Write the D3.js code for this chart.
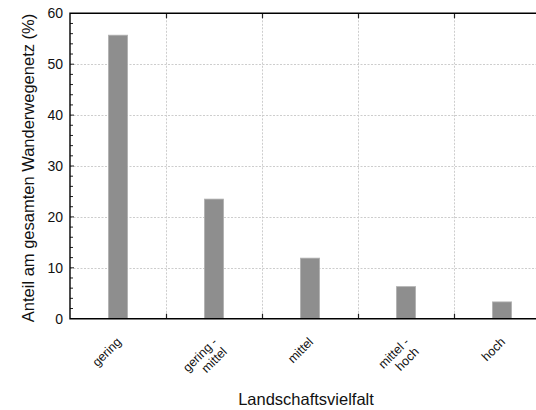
<!DOCTYPE html>
<html>
<head>
<meta charset="utf-8">
<script src="https://cdn.jsdelivr.net/npm/d3@7"></script>
<style>
  body { margin: 0; background: #fff; }
  svg { display: block; font-family: "Liberation Sans", Arial, sans-serif; }
</style>
</head>
<body>
<svg id="chart"></svg>
<script>
// Landschaftsvielfalt categories, two-line tick labels, share values (%)
const categories = ["gering", "gering-mittel", "mittel", "mittel-hoch", "hoch"];
const tickLabels = [["gering"], ["gering -", "mittel"], ["mittel"], ["mittel -", "hoch"], ["hoch"]];
const values = [55.7, 23.5, 11.9, 6.3, 3.3];
const yTicks = [0, 10, 20, 30, 40, 50, 60];

const w = 536;
const h = 410;
const mLeft = 70;
const mTop = 13.3;
const plotW = 480;   // right side runs past the window edge like the original
const plotH = 305.4;

const svg = d3.select("#chart")
  .attr("width", w)
  .attr("height", h);

const x = d3.scaleBand()
  .domain(categories)
  .range([mLeft, mLeft + plotW]);

const y = d3.scaleLinear()
  .domain([0, 60])
  .range([mTop + plotH, mTop]);

// grid
const grid = svg.append("g")
  .attr("stroke", "#cdcdcd")
  .attr("stroke-width", 1)
  .attr("stroke-dasharray", "2,1.5");

grid.selectAll("line.h")
  .data(yTicks.filter(d => d > 0 && d < 60))
  .enter().append("line")
  .attr("x1", mLeft).attr("x2", mLeft + plotW)
  .attr("y1", d => Math.round(y(d)) + 0.5)
  .attr("y2", d => Math.round(y(d)) + 0.5);

grid.selectAll("line.v")
  .data(categories.slice(1))
  .enter().append("line")
  .attr("x1", d => Math.round(x(d)) + 0.5)
  .attr("x2", d => Math.round(x(d)) + 0.5)
  .attr("y1", mTop).attr("y2", mTop + plotH);

// bars
const barW = x.bandwidth() * 0.2;
svg.selectAll("rect.bar")
  .data(values)
  .enter().append("rect")
  .attr("class", "bar")
  .attr("x", (d, i) => x(categories[i]) + x.bandwidth() / 2 - barW / 2)
  .attr("width", barW)
  .attr("y", d => y(d))
  .attr("height", d => y(0) - y(d))
  .attr("fill", "#8e8e8e")
  .attr("stroke", "#b2b2b2")
  .attr("stroke-width", 0.8);

// y axis with minor ticks pointing inward
const yAxis = d3.axisLeft(y)
  .tickValues(yTicks)
  .tickSize(0)
  .tickPadding(7);
const gy = svg.append("g")
  .attr("transform", `translate(${mLeft},0)`)
  .call(yAxis);
gy.select(".domain").remove();
gy.selectAll("text").attr("font-size", 14).attr("fill", "#111");

svg.append("g").selectAll("line")
  .data(d3.range(2, 60, 2))
  .enter().append("line")
  .attr("x1", mLeft).attr("x2", d => mLeft + (d % 10 === 0 ? 4 : 3))
  .attr("y1", d => y(d)).attr("y2", d => y(d))
  .attr("stroke", "#222").attr("stroke-width", 1);

// x ticks at category boundaries (bottom and top, inward)
svg.append("g").selectAll("line")
  .data(categories.slice(1))
  .enter().append("line")
  .attr("x1", d => Math.round(x(d)) + 0.5).attr("x2", d => Math.round(x(d)) + 0.5)
  .attr("y1", mTop + plotH).attr("y2", mTop + plotH - 5)
  .attr("stroke", "#222").attr("stroke-width", 1.2);
svg.append("g").selectAll("line")
  .data(categories.slice(1))
  .enter().append("line")
  .attr("x1", d => Math.round(x(d)) + 0.5).attr("x2", d => Math.round(x(d)) + 0.5)
  .attr("y1", mTop).attr("y2", mTop + 5)
  .attr("stroke", "#222").attr("stroke-width", 1.2);

// frame
svg.append("path")
  .attr("d", `M${mLeft + plotW},${mTop}H${mLeft}V${mTop + plotH}H${mLeft + plotW}`)
  .attr("fill", "none")
  .attr("stroke", "#000")
  .attr("stroke-width", 1.4);

// x tick labels, rotated
const xl = svg.append("g").selectAll("text")
  .data(categories)
  .enter().append("text")
  .attr("transform", d => `translate(${x(d) + x.bandwidth() / 2 + 4},${mTop + plotH + 24}) rotate(-45)`)
  .attr("text-anchor", "end")
  .attr("font-size", 12.5)
  .attr("fill", "#111");
xl.each(function (d, i) {
  d3.select(this).selectAll("tspan")
    .data(tickLabels[i])
    .enter().append("tspan")
    .attr("x", 0)
    .attr("dy", (t, j) => j === 0 ? 0 : "1.1em")
    .text(t => t);
});

// axis titles
svg.append("text")
  .attr("x", 306)
  .attr("y", 405)
  .attr("text-anchor", "middle")
  .attr("font-size", 16.5)
  .attr("fill", "#111")
  .text("Landschaftsvielfalt");

svg.append("text")
  .attr("transform", `translate(34,${mTop + plotH / 2 + 2}) rotate(-90)`)
  .attr("text-anchor", "middle")
  .attr("font-size", 16.5)
  .attr("fill", "#111")
  .text("Anteil am gesamten Wanderwegenetz (%)");
</script>
</body>
</html>
